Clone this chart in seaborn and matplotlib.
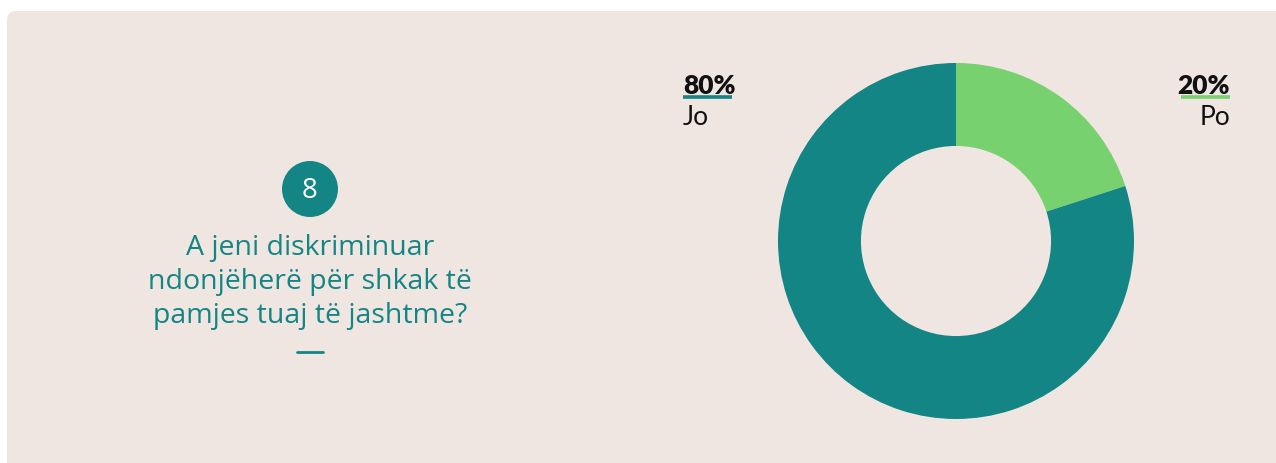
import matplotlib
matplotlib.use("Agg")
import matplotlib.pyplot as plt
import seaborn as sns
from matplotlib.patches import FancyBboxPatch, Circle

sns.set_theme(style="white")
plt.rcParams["font.family"] = ["Lato", "DejaVu Sans"]

labels = ["Po", "Jo"]
shares = [20, 80]
colors = ["#76D16E", "#138585"]
question = "A jeni diskriminuar\nndonjëherë për shkak të\npamjes tuaj të jashtme?"
number = "8"

BG = "#F0E6E1"
TEAL = "#138585"

fig = plt.figure(figsize=(12.76, 4.64), dpi=100, facecolor="white")

# rounded panel behind everything
panel = FancyBboxPatch((0.07, -1.0), 14.0, 5.52,
                       boxstyle="round,pad=0,rounding_size=0.09",
                       transform=fig.dpi_scale_trans,
                       facecolor=BG, edgecolor="none", zorder=-5)
fig.patches.append(panel)

# donut
ax = fig.add_axes([778 / 1276, 44 / 464, 356 / 1276, 356 / 464])
ax.set_facecolor("none")
ax.pie(shares, colors=colors, startangle=90, counterclock=False,
       radius=1.0, wedgeprops=dict(width=0.466, edgecolor="none"))
ax.set_xlim(-1, 1)
ax.set_ylim(-1, 1)
ax.set_aspect("equal")
ax.axis("off")

# labels with underline
def px(x, y):
    return x / 1276, 1 - y / 464

for lab, val, col, xr, ha in [("Jo", shares[1], colors[1], 683, "left"),
                              ("Po", shares[0], colors[0], 1230, "right")]:
    fig.text(*px(xr, 94), f"{val}%", fontsize=19, fontweight="heavy",
             color="#111111", ha=ha, va="baseline")
    fig.text(*px(xr, 125), lab, fontsize=19, color="#111111",
             ha=ha, va="baseline")
    x0 = xr if ha == "left" else xr - 49
    fig.add_artist(plt.Line2D([x0 / 1276, (x0 + 49) / 1276],
                              [1 - 97.5 / 464, 1 - 97.5 / 464],
                              color=col, lw=2.6, solid_capstyle="butt"))

# question block
circ = Circle((310 / 100, (464 - 190) / 100), 28 / 100,
              transform=fig.dpi_scale_trans,
              facecolor=TEAL, edgecolor="none")
fig.patches.append(circ)
fig.text(*px(310, 191), number, fontsize=20, color="white",
         ha="center", va="center", family=["Open Sans", "DejaVu Sans"])
fig.text(*px(310, 282), question, fontsize=20.5, color=TEAL,
         ha="center", va="center", linespacing=1.28,
         family=["Open Sans", "DejaVu Sans"])
fig.add_artist(plt.Line2D([297 / 1276, 323 / 1276],
                          [1 - 353 / 464, 1 - 353 / 464],
                          color=TEAL, lw=2))

fig.savefig("out.png", dpi=100, facecolor="white")
